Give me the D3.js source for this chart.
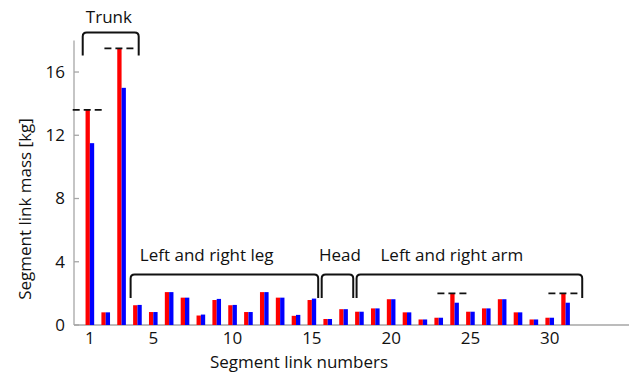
<!DOCTYPE html>
<html>
<head>
<meta charset="utf-8">
<script src="https://cdn.jsdelivr.net/npm/d3@7"></script>
<style>
  body { margin: 0; background: #fff; }
  text { font-family: "Open Sans", sans-serif; fill: #111; }
</style>
</head>
<body>
<div id="chart"></div>
<script>
const width = 637;
const height = 376;

const segments = d3.range(1, 32);
const redMass = [13.6, 0.8, 17.5, 1.25, 0.82, 2.08, 1.73, 0.6, 1.58, 1.25, 0.82, 2.08, 1.73, 0.58, 1.58,
  0.38, 1.0, 0.84, 1.05, 1.63, 0.8, 0.35, 0.46, 1.96, 0.84, 1.05, 1.63, 0.8, 0.35, 0.46, 1.96];
const blueMass = [11.5, 0.8, 15.0, 1.27, 0.82, 2.08, 1.73, 0.66, 1.65, 1.27, 0.82, 2.08, 1.73, 0.64, 1.67,
  0.38, 1.0, 0.84, 1.05, 1.63, 0.8, 0.35, 0.46, 1.41, 0.84, 1.05, 1.63, 0.8, 0.35, 0.46, 1.41];

// dashed reference marks
const refSegments = [1, 3, 24, 31];
const refValues = [13.6, 17.5, 2.0, 2.0];

// group brackets (segment range) and their labels
const groupNames = ["Trunk", "Left and right leg", "Head", "Left and right arm"];
const groupStart = [0.55, 3.57, 15.62, 17.82];
const groupEnd = [4.08, 15.4, 17.61, 32.05];
const groupLabelAt = [2.2, 8.37, 16.77, 23.83];

const xTicks = [1, 5, 10, 15, 20, 25, 30];
const yTicks = [0, 4, 8, 12, 16];

const svg = d3.select("#chart")
  .append("svg")
  .attr("width", width)
  .attr("height", height);

const x = d3.scaleLinear().domain([0, 35]).range([74, 629]);
const y = d3.scaleLinear().domain([0, 18]).range([325, 40.4]);

const barW = x(0.272) - x(0);
const axisColor = "#a6a6a6";

// axes
svg.append("line")
  .attr("x1", x(0)).attr("x2", x(35))
  .attr("y1", y(0)).attr("y2", y(0))
  .attr("stroke", axisColor).attr("stroke-width", 1.3);

svg.append("line")
  .attr("x1", x(0)).attr("x2", x(0))
  .attr("y1", y(0)).attr("y2", y(18))
  .attr("stroke", axisColor).attr("stroke-width", 1.3);

svg.selectAll(".ytick")
  .data(yTicks)
  .enter()
  .append("line")
  .attr("x1", x(0)).attr("x2", x(0) + 5)
  .attr("y1", d => y(d)).attr("y2", d => y(d))
  .attr("stroke", axisColor).attr("stroke-width", 1.3);

svg.selectAll(".ylab")
  .data(yTicks)
  .enter()
  .append("text")
  .attr("x", 65)
  .attr("y", d => y(d))
  .attr("dy", "0.35em")
  .attr("text-anchor", "end")
  .attr("font-size", 17)
  .text(d => d);

svg.selectAll(".xlab")
  .data(xTicks)
  .enter()
  .append("text")
  .attr("x", d => x(d))
  .attr("y", 344)
  .attr("text-anchor", "middle")
  .attr("font-size", 17)
  .text(d => d);

// bars
svg.selectAll(".red")
  .data(segments)
  .enter()
  .append("rect")
  .attr("x", d => x(d) - barW)
  .attr("y", (d, i) => y(redMass[i]))
  .attr("width", barW)
  .attr("height", (d, i) => y(0) - y(redMass[i]))
  .attr("fill", "#ff0000");

svg.selectAll(".blue")
  .data(segments)
  .enter()
  .append("rect")
  .attr("x", d => x(d))
  .attr("y", (d, i) => y(blueMass[i]))
  .attr("width", barW)
  .attr("height", (d, i) => y(0) - y(blueMass[i]))
  .attr("fill", "#0000ff");

// dashed reference lines
svg.selectAll(".ref")
  .data(refSegments)
  .enter()
  .append("line")
  .attr("x1", d => x(d) - barW / 2 - 15)
  .attr("x2", d => x(d) - barW / 2 + 15)
  .attr("y1", (d, i) => y(refValues[i]))
  .attr("y2", (d, i) => y(refValues[i]))
  .attr("stroke", "#111")
  .attr("stroke-width", 1.8)
  .attr("stroke-dasharray", "7,4");

// brackets
const bracketTop = [18.5, 3.2, 3.2, 3.2];
const bracketBottom = [17.05, 1.7, 1.7, 1.7];
const r = 4;

svg.selectAll(".bracket")
  .data(groupNames)
  .enter()
  .append("path")
  .attr("d", (d, i) => {
    const x0 = x(groupStart[i]), x1 = x(groupEnd[i]);
    const yt = y(bracketTop[i]), yb = y(bracketBottom[i]);
    return `M${x0},${yb} L${x0},${yt + r} Q${x0},${yt} ${x0 + r},${yt} L${x1 - r},${yt} Q${x1},${yt} ${x1},${yt + r} L${x1},${yb}`;
  })
  .attr("fill", "none")
  .attr("stroke", "#111")
  .attr("stroke-width", 2);

svg.selectAll(".glab")
  .data(groupNames)
  .enter()
  .append("text")
  .attr("x", (d, i) => x(groupLabelAt[i]))
  .attr("y", (d, i) => i === 0 ? 23 : 261)
  .attr("text-anchor", "middle")
  .attr("font-size", 17)
  .text(d => d);

// axis titles
svg.append("text")
  .attr("x", 299)
  .attr("y", 368)
  .attr("text-anchor", "middle")
  .attr("font-size", 17)
  .text("Segment link numbers");

svg.append("text")
  .attr("transform", "rotate(-90)")
  .attr("x", -209)
  .attr("y", 31)
  .attr("text-anchor", "middle")
  .attr("font-size", 17)
  .text("Segment link mass [kg]");
</script>
</body>
</html>
